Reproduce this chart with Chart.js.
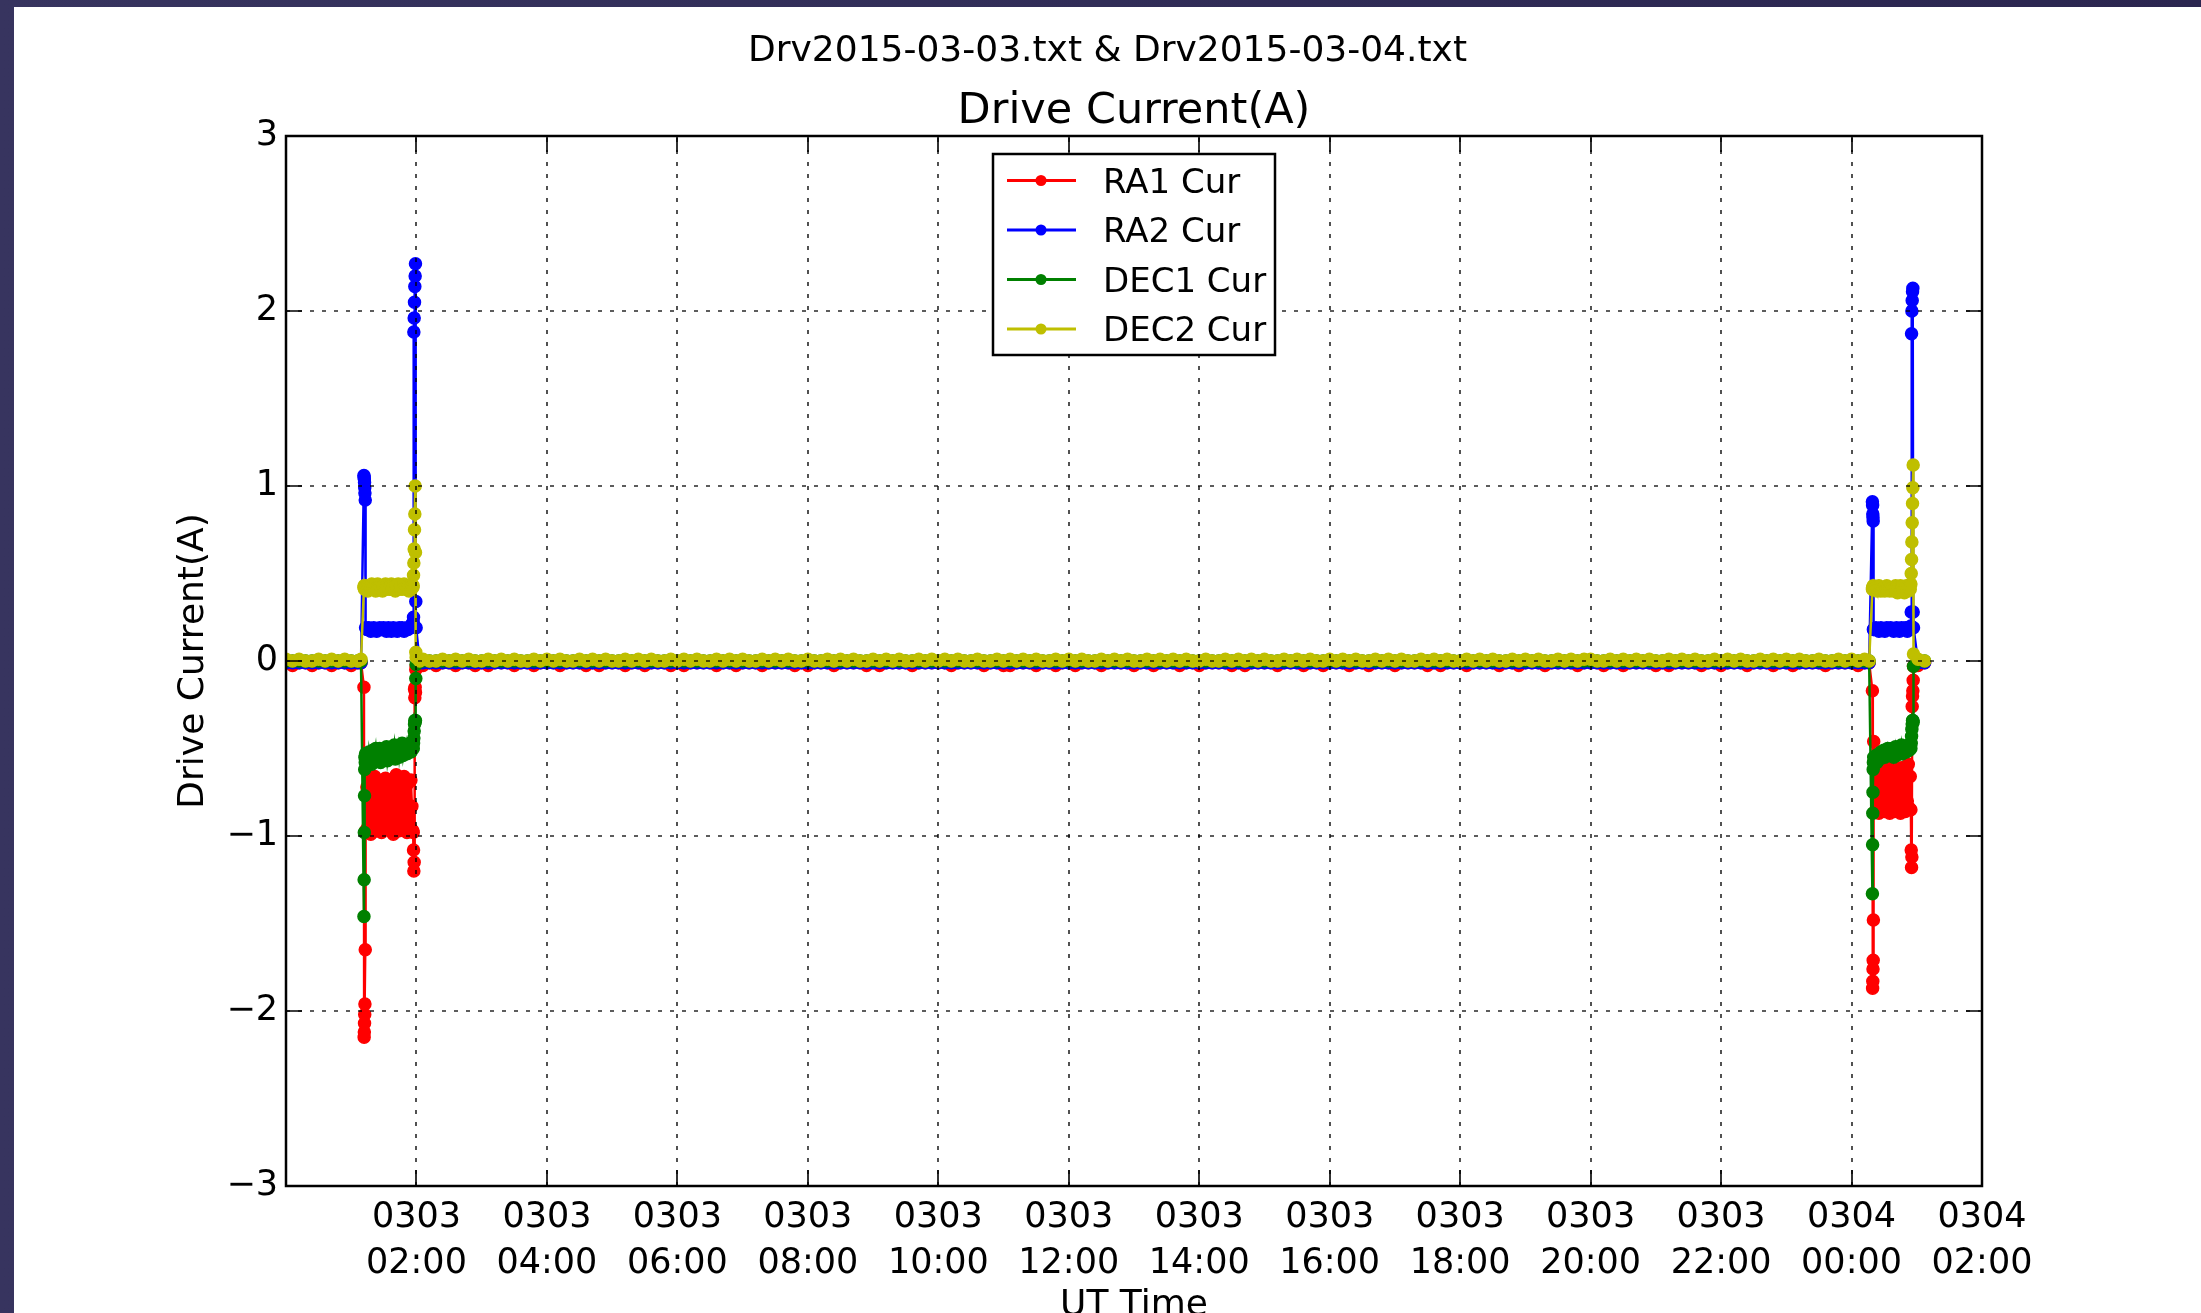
<!DOCTYPE html>
<html>
<head>
<meta charset="utf-8">
<title>Drive Current(A)</title>
<script src="https://cdn.jsdelivr.net/npm/chart.js@4.4.1/dist/chart.umd.min.js"></script>
<style>
  html, body { margin: 0; padding: 0; overflow: hidden; }
  body { width: 2201px; height: 1313px; background: linear-gradient(90deg, #37345f, #2b2650); }
  #panel { position: absolute; left: 14px; top: 7px; width: 2187px; height: 1330px; background: #fff; }
</style>
</head>
<body>
<div id="panel"><canvas id="driveChart"></canvas></div>
<script>
// Titles and labels
const fileTitle = 'Drv2015-03-03.txt & Drv2015-03-04.txt';
const chartTitle = 'Drive Current(A)';
const seriesLabels = ['RA1 Cur', 'RA2 Cur', 'DEC1 Cur', 'DEC2 Cur'];
const dayLabels = ['0303', '0304'];

// Idle periods: hours since 0303 00:00 UT
const quietTimes = [
    0, 0.1, 0.2, 0.3, 0.4, 0.5, 0.6, 0.7, 0.8, 0.9, 1, 1.1, 1.15,
    2.05, 2.1, 2.2, 2.3, 2.4, 2.5, 2.6, 2.7, 2.8, 2.9, 3, 3.1, 3.2, 3.3, 3.4, 3.5, 3.6, 3.7, 3.8, 3.9,
    4, 4.1, 4.2, 4.3, 4.4, 4.5, 4.6, 4.7, 4.8, 4.9, 5, 5.1, 5.2, 5.3, 5.4, 5.5, 5.6, 5.7, 5.8, 5.9,
    6, 6.1, 6.2, 6.3, 6.4, 6.5, 6.6, 6.7, 6.8, 6.9, 7, 7.1, 7.2, 7.3, 7.4, 7.5, 7.6, 7.7, 7.8, 7.9,
    8, 8.1, 8.2, 8.3, 8.4, 8.5, 8.6, 8.7, 8.8, 8.9, 9, 9.1, 9.2, 9.3, 9.4, 9.5, 9.6, 9.7, 9.8, 9.9,
    10, 10.1, 10.2, 10.3, 10.4, 10.5, 10.6, 10.7, 10.8, 10.9, 11, 11.1, 11.2, 11.3, 11.4, 11.5, 11.6, 11.7, 11.8, 11.9,
    12, 12.1, 12.2, 12.3, 12.4, 12.5, 12.6, 12.7, 12.8, 12.9, 13, 13.1, 13.2, 13.3, 13.4, 13.5, 13.6, 13.7, 13.8, 13.9,
    14, 14.1, 14.2, 14.3, 14.4, 14.5, 14.6, 14.7, 14.8, 14.9, 15, 15.1, 15.2, 15.3, 15.4, 15.5, 15.6, 15.7, 15.8, 15.9,
    16, 16.1, 16.2, 16.3, 16.4, 16.5, 16.6, 16.7, 16.8, 16.9, 17, 17.1, 17.2, 17.3, 17.4, 17.5, 17.6, 17.7, 17.8, 17.9,
    18, 18.1, 18.2, 18.3, 18.4, 18.5, 18.6, 18.7, 18.8, 18.9, 19, 19.1, 19.2, 19.3, 19.4, 19.5, 19.6, 19.7, 19.8, 19.9,
    20, 20.1, 20.2, 20.3, 20.4, 20.5, 20.6, 20.7, 20.8, 20.9, 21, 21.1, 21.2, 21.3, 21.4, 21.5, 21.6, 21.7, 21.8, 21.9,
    22, 22.1, 22.2, 22.3, 22.4, 22.5, 22.6, 22.7, 22.8, 22.9, 23, 23.1, 23.2, 23.3, 23.4, 23.5, 23.6, 23.7, 23.8, 23.9,
    24, 24.1, 24.2, 24.27, 25.02, 25.12
];
const quietRA1 = [
    -0.01, -0.025, -0.01, -0.01, -0.025, -0.01, -0.01, -0.025, -0.01, -0.01, -0.025, -0.01, -0.01,
    -0.01, -0.025, -0.01, -0.025, -0.01,  -0.01, -0.025, -0.01, -0.01, -0.025,  -0.01, -0.025, -0.01, -0.01, -0.01,  -0.025, -0.01, -0.01, -0.025, -0.01,
    -0.01, -0.01, -0.025, -0.01, -0.01,  -0.01, -0.025, -0.01, -0.025, -0.01,  -0.01, -0.01, -0.025, -0.01, -0.01,  -0.025, -0.01, -0.01, -0.01, -0.025,
    -0.01, -0.025, -0.01, -0.01, -0.01,  -0.01, -0.025, -0.01, -0.01, -0.025,  -0.01, -0.01, -0.01, -0.025, -0.01,  -0.01, -0.01, -0.01, -0.025, -0.01,
    -0.025, -0.01, -0.01, -0.01, -0.025,  -0.01, -0.01, -0.01, -0.01, -0.025,  -0.01, -0.025, -0.01, -0.01, -0.01,  -0.01, -0.025, -0.01, -0.01, -0.01,
    -0.01, -0.01, -0.025, -0.01, -0.01,  -0.01, -0.01, -0.025, -0.01, -0.01,  -0.025, -0.025, -0.01, -0.01, -0.01,  -0.025, -0.01, -0.01, -0.025, -0.01,
    -0.01, -0.025, -0.01, -0.01, -0.01,  -0.025, -0.01, -0.01, -0.01, -0.01,  -0.025, -0.01, -0.01, -0.025, -0.01,  -0.01, -0.01, -0.025, -0.01, -0.01,
    -0.025, -0.01, -0.01, -0.01, -0.01,  -0.025, -0.01, -0.025, -0.01, -0.01,  -0.01, -0.01, -0.025, -0.01, -0.01,  -0.01, -0.025, -0.01, -0.01, -0.025,
    -0.01, -0.01, -0.01, -0.025, -0.01,  -0.01, -0.025, -0.01, -0.01, -0.01,  -0.025, -0.01, -0.01, -0.01, -0.01,  -0.025, -0.01, -0.025, -0.01, -0.01,
    -0.01, -0.025, -0.01, -0.01, -0.01,  -0.01, -0.025, -0.01, -0.01, -0.025,  -0.01, -0.01, -0.01, -0.025, -0.01,  -0.01, -0.01, -0.01, -0.025, -0.01,
    -0.01, -0.01, -0.025, -0.01, -0.01,  -0.025, -0.01, -0.01, -0.01, -0.01,  -0.025, -0.01, -0.025, -0.01, -0.01,  -0.01, -0.01, -0.025, -0.01, -0.01,
    -0.025, -0.01, -0.01, -0.01, -0.025,  -0.01, -0.01, -0.01, -0.025, -0.01,  -0.01, -0.025, -0.01, -0.01, -0.01,  -0.01, -0.025, -0.01, -0.01, -0.01,
    -0.01, -0.025, -0.01, -0.01, -0.025, -0.01
];
const quietRA2 = [
    -0.01, -0.01, -0.01, -0.01, -0.01, -0.01, -0.01, -0.01, -0.01, -0.01, -0.01, -0.01, -0.01,
    -0.01, -0.01, -0.01, -0.01, -0.01,  -0.01, -0.01, -0.01, -0.01, -0.01,  -0.01, -0.01, -0.01, -0.01, -0.01,  -0.01, -0.01, -0.01, -0.01, -0.01,
    -0.01, -0.01, -0.01, -0.01, -0.01,  -0.01, -0.01, -0.01, -0.01, -0.01,  -0.01, -0.01, -0.01, -0.01, -0.01,  -0.01, -0.01, -0.01, -0.01, -0.01,
    -0.01, -0.01, -0.01, -0.01, -0.01,  -0.01, -0.01, -0.01, -0.01, -0.01,  -0.01, -0.01, -0.01, -0.01, -0.01,  -0.01, -0.01, -0.01, -0.01, -0.01,
    -0.01, -0.01, -0.01, -0.01, -0.01,  -0.01, -0.01, -0.01, -0.01, -0.01,  -0.01, -0.01, -0.01, -0.01, -0.01,  -0.01, -0.01, -0.01, -0.01, -0.01,
    -0.01, -0.01, -0.01, -0.01, -0.01,  -0.01, -0.01, -0.01, -0.01, -0.01,  -0.01, -0.01, -0.01, -0.01, -0.01,  -0.01, -0.01, -0.01, -0.01, -0.01,
    -0.01, -0.01, -0.01, -0.01, -0.01,  -0.01, -0.01, -0.01, -0.01, -0.01,  -0.01, -0.01, -0.01, -0.01, -0.01,  -0.01, -0.01, -0.01, -0.01, -0.01,
    -0.01, -0.01, -0.01, -0.01, -0.01,  -0.01, -0.01, -0.01, -0.01, -0.01,  -0.01, -0.01, -0.01, -0.01, -0.01,  -0.01, -0.01, -0.01, -0.01, -0.01,
    -0.01, -0.01, -0.01, -0.01, -0.01,  -0.01, -0.01, -0.01, -0.01, -0.01,  -0.01, -0.01, -0.01, -0.01, -0.01,  -0.01, -0.01, -0.01, -0.01, -0.01,
    -0.01, -0.01, -0.01, -0.01, -0.01,  -0.01, -0.01, -0.01, -0.01, -0.01,  -0.01, -0.01, -0.01, -0.01, -0.01,  -0.01, -0.01, -0.01, -0.01, -0.01,
    -0.01, -0.01, -0.01, -0.01, -0.01,  -0.01, -0.01, -0.01, -0.01, -0.01,  -0.01, -0.01, -0.01, -0.01, -0.01,  -0.01, -0.01, -0.01, -0.01, -0.01,
    -0.01, -0.01, -0.01, -0.01, -0.01,  -0.01, -0.01, -0.01, -0.01, -0.01,  -0.01, -0.01, -0.01, -0.01, -0.01,  -0.01, -0.01, -0.01, -0.01, -0.01,
    -0.01, -0.01, -0.01, -0.01, -0.01, -0.01
];
const quietDEC1 = [
    0, 0, 0, 0, 0, 0, 0, 0, 0, 0, 0, 0, 0,
    0, 0, 0, 0, 0,  0, 0, 0, 0, 0,  0, 0, 0, 0, 0,  0, 0, 0, 0, 0,
    0, 0, 0, 0, 0,  0, 0, 0, 0, 0,  0, 0, 0, 0, 0,  0, 0, 0, 0, 0,
    0, 0, 0, 0, 0,  0, 0, 0, 0, 0,  0, 0, 0, 0, 0,  0, 0, 0, 0, 0,
    0, 0, 0, 0, 0,  0, 0, 0, 0, 0,  0, 0, 0, 0, 0,  0, 0, 0, 0, 0,
    0, 0, 0, 0, 0,  0, 0, 0, 0, 0,  0, 0, 0, 0, 0,  0, 0, 0, 0, 0,
    0, 0, 0, 0, 0,  0, 0, 0, 0, 0,  0, 0, 0, 0, 0,  0, 0, 0, 0, 0,
    0, 0, 0, 0, 0,  0, 0, 0, 0, 0,  0, 0, 0, 0, 0,  0, 0, 0, 0, 0,
    0, 0, 0, 0, 0,  0, 0, 0, 0, 0,  0, 0, 0, 0, 0,  0, 0, 0, 0, 0,
    0, 0, 0, 0, 0,  0, 0, 0, 0, 0,  0, 0, 0, 0, 0,  0, 0, 0, 0, 0,
    0, 0, 0, 0, 0,  0, 0, 0, 0, 0,  0, 0, 0, 0, 0,  0, 0, 0, 0, 0,
    0, 0, 0, 0, 0,  0, 0, 0, 0, 0,  0, 0, 0, 0, 0,  0, 0, 0, 0, 0,
    0, 0, 0, 0, 0, 0
];
const quietDEC2 = [
    0.01, 0, 0.01, 0, 0, 0.01, 0, 0.01, 0, 0.01, 0, 0, 0.01,
    0, 0.01, 0, 0, 0.01,  0, 0.01, 0, 0.01, 0,  0, 0.01, 0, 0.01, 0,  0.01, 0, 0, 0.01, 0,
    0.01, 0, 0.01, 0, 0,  0.01, 0, 0.01, 0, 0.01,  0, 0, 0.01, 0, 0.01,  0, 0.01, 0, 0, 0.01,
    0, 0.01, 0, 0.01, 0,  0, 0.01, 0, 0.01, 0,  0.01, 0, 0, 0.01, 0,  0.01, 0, 0.01, 0, 0,
    0.01, 0, 0, 0.01, 0,  0.01, 0, 0.01, 0, 0,  0.01, 0, 0.01, 0, 0.01,  0, 0, 0.01, 0, 0.01,
    0, 0.01, 0, 0.01, 0,  0, 0.01, 0, 0, 0.01,  0, 0.01, 0, 0.01, 0,  0.01, 0, 0, 0.01, 0,
    0.01, 0, 0.01, 0, 0,  0.01, 0, 0.01, 0, 0.01,  0, 0, 0.01, 0, 0.01,  0, 0.01, 0, 0.01, 0,
    0, 0.01, 0, 0, 0.01,  0, 0.01, 0, 0.01, 0,  0.01, 0, 0, 0.01, 0,  0.01, 0, 0.01, 0, 0,
    0.01, 0, 0.01, 0, 0.01,  0, 0, 0.01, 0, 0.01,  0, 0.01, 0, 0, 0.01,  0, 0.01, 0, 0.01, 0,
    0, 0.01, 0, 0.01, 0,  0.01, 0, 0, 0.01, 0,  0.01, 0, 0.01, 0, 0,  0.01, 0, 0.01, 0, 0.01,
    0.01, 0, 0, 0.01, 0,  0.01, 0, 0.01, 0, 0.01,  0, 0, 0.01, 0, 0.01,  0, 0.01, 0, 0, 0.01,
    0, 0.01, 0, 0.01, 0,  0, 0.01, 0, 0.01, 0,  0.01, 0, 0.01, 0, 0,  0.01, 0, 0, 0.01, 0,
    0.01, 0, 0.01, 0, 0.01, 0
];

// Slews: 0303 ~01:12-02:00 and 0304 ~00:19-00:57
const slewTimes = [
    1.195, 1.198, 1.201, 1.204, 1.207, 1.21, 1.215, 1.22,
    1.24, 1.255, 1.27, 1.285, 1.3, 1.315, 1.33, 1.345, 1.36, 1.375, 1.39, 1.405,
    1.42, 1.435, 1.45, 1.465, 1.48, 1.495, 1.51, 1.525, 1.54, 1.555, 1.57, 1.585,
    1.6, 1.615, 1.63, 1.645, 1.66, 1.675, 1.69, 1.705, 1.72, 1.735, 1.75, 1.765,
    1.78, 1.795, 1.81, 1.825, 1.84, 1.855, 1.87, 1.885, 1.9, 1.915, 1.93, 1.945,
    1.95, 1.955, 1.96, 1.965, 1.97, 1.975, 1.98, 1.985, 1.99, 1.995,
    24.32, 24.323, 24.326, 24.329, 24.332, 24.335, 24.34,
    24.36, 24.375, 24.39, 24.405, 24.42, 24.435, 24.45, 24.465, 24.48, 24.495,
    24.51, 24.525, 24.54, 24.555, 24.57, 24.585, 24.6, 24.615, 24.63,
    24.645, 24.66, 24.675, 24.69, 24.705, 24.72, 24.735, 24.75, 24.765,
    24.78, 24.795, 24.81, 24.825, 24.84, 24.855, 24.87, 24.885, 24.9,
    24.91, 24.915, 24.92, 24.925, 24.93, 24.935, 24.94, 24.945, 24.95
];
const slewRA1 = [
    -0.15, -2.15, -2.12, -2.07, -2.02, -1.96, -1.65, -0.97,
    -0.72, -0.95, -0.68, -0.90, -0.99, -0.70, -0.86, -0.94, -0.66, -0.80, -0.97, -0.74,
    -0.91, -0.69, -0.85, -0.98, -0.71, -0.82, -0.95, -0.67, -0.89, -0.77, -0.96, -0.70,
    -0.93, -0.68, -0.84, -0.99, -0.73, -0.88, -0.65, -0.92, -0.79, -0.97, -0.69, -0.87,
    -0.75, -0.95, -0.66, -0.90, -0.81, -0.98, -0.70, -0.86, -0.94, -0.68, -0.83, -0.97,
    -0.98, -1.08, -1.20, -1.15, -0.16, -0.21, -0.15, -0.18, -0.05, -0.03,
    -0.17, -1.87, -1.83, -1.76, -1.71, -1.48, -0.46,
    -0.62, -0.85, -0.60, -0.80, -0.87, -0.63, -0.76, -0.84, -0.59, -0.72,
    -0.86, -0.65, -0.81, -0.61, -0.78, -0.87, -0.64, -0.74, -0.82,
    -0.60, -0.86, -0.68, -0.79, -0.62, -0.85, -0.71, -0.87, -0.61,
    -0.77, -0.83, -0.63, -0.86, -0.70, -0.80, -0.59, -0.84, -0.66,
    -0.85, -1.08, -1.18, -1.12, -0.26, -0.20, -0.17, -0.11, -0.03
];
const slewRA2 = [
    1.06, 1.05, 1.04, 1.02, 0.99, 0.96, 0.92, 0.19,
    0.18, 0.18, 0.19, 0.18, 0.17, 0.18, 0.18, 0.19, 0.18, 0.18, 0.17, 0.18,
    0.18, 0.19, 0.18, 0.18, 0.18, 0.19, 0.18, 0.18, 0.17, 0.18, 0.19, 0.18,
    0.18, 0.17, 0.18, 0.19, 0.18, 0.18, 0.18, 0.17, 0.18, 0.19, 0.18, 0.18,
    0.19, 0.18, 0.17, 0.18, 0.18, 0.19, 0.18, 0.19, 0.19, 0.20, 0.21, 0.22,
    0.22, 0.25, 1.88, 1.96, 2.05, 2.14, 2.20, 2.27, 0.34, 0.19,
    0.91, 0.89, 0.84, 0.82, 0.80, 0.18, 0.18,
    0.18, 0.19, 0.18, 0.18, 0.17, 0.18, 0.19, 0.18, 0.18, 0.18,
    0.17, 0.18, 0.19, 0.18, 0.18, 0.18, 0.19, 0.18, 0.18,
    0.17, 0.18, 0.18, 0.19, 0.18, 0.18, 0.17, 0.18, 0.19,
    0.18, 0.18, 0.18, 0.19, 0.18, 0.17, 0.18, 0.19, 0.18,
    0.20, 0.28, 1.87, 2.00, 2.06, 2.11, 2.13, 0.28, 0.19
];
const slewDEC1 = [
    -1.46, -1.25, -0.98, -0.77, -0.62, -0.55, -0.58, -0.53,
    -0.55, -0.58, -0.52, -0.57, -0.53, -0.59, -0.51, -0.56, -0.54, -0.50, -0.57, -0.52,
    -0.55, -0.50, -0.58, -0.53, -0.51, -0.56, -0.52, -0.54, -0.49, -0.57, -0.53, -0.51,
    -0.55, -0.50, -0.54, -0.52, -0.48, -0.56, -0.51, -0.53, -0.49, -0.55, -0.50, -0.52,
    -0.47, -0.54, -0.50, -0.52, -0.48, -0.53, -0.49, -0.51, -0.47, -0.52, -0.49, -0.50,
    -0.50, -0.47, -0.44, -0.40, -0.36, -0.34, -0.35, -0.34, -0.10, -0.02,
    -1.33, -1.05, -0.87, -0.75, -0.62, -0.58, -0.55,
    -0.57, -0.54, -0.58, -0.55, -0.53, -0.56, -0.52, -0.55, -0.54, -0.51,
    -0.55, -0.52, -0.54, -0.50, -0.53, -0.51, -0.52, -0.50, -0.51,
    -0.55, -0.52, -0.49, -0.54, -0.51, -0.53, -0.50, -0.52, -0.48,
    -0.53, -0.50, -0.51, -0.49, -0.52, -0.50, -0.48, -0.51, -0.49,
    -0.50, -0.47, -0.43, -0.39, -0.36, -0.34, -0.34, -0.35, -0.03
];
const slewDEC2 = [
    0.42, 0.43, 0.42, 0.41, 0.42, 0.43, 0.42, 0.42,
    0.42, 0.40, 0.43, 0.42, 0.41, 0.44, 0.41, 0.42, 0.43, 0.40, 0.42, 0.44,
    0.42, 0.41, 0.43, 0.42, 0.40, 0.43, 0.42, 0.44, 0.41, 0.42, 0.43, 0.41,
    0.42, 0.44, 0.41, 0.43, 0.42, 0.40, 0.43, 0.42, 0.44, 0.41, 0.42, 0.43,
    0.41, 0.42, 0.44, 0.42, 0.41, 0.43, 0.42, 0.40, 0.43, 0.42, 0.44, 0.42,
    0.43, 0.49, 0.56, 0.64, 0.75, 0.84, 1.00, 0.62, 0.05, 0.02,
    0.41, 0.42, 0.41, 0.42, 0.43, 0.41, 0.42,
    0.41, 0.42, 0.40, 0.41, 0.43, 0.41, 0.40, 0.42, 0.41, 0.42,
    0.40, 0.41, 0.43, 0.42, 0.41, 0.40, 0.42, 0.41, 0.42,
    0.40, 0.42, 0.43, 0.41, 0.39, 0.42, 0.41, 0.43, 0.40,
    0.42, 0.41, 0.39, 0.42, 0.43, 0.41, 0.40, 0.42, 0.41,
    0.44, 0.50, 0.58, 0.68, 0.79, 0.90, 0.99, 1.12, 0.04
];

const yTicks = [-3, -2, -1, 0, 1, 2, 3];

Chart.defaults.font.family = '"DejaVu Sans", sans-serif';
Chart.defaults.color = '#000';

// merge idle and slew samples into one time-ordered series
function series(quiet, slew) {
    const pts = quietTimes.map((t, i) => ({ x: t, y: quiet[i] }))
        .concat(slewTimes.map((t, i) => ({ x: t, y: slew[i] })));
    return pts.sort((a, b) => a.x - b.x);
}

function makeSet(label, color, order, quiet, slew) {
    return {
        label: label,
        order: order,
        data: series(quiet, slew),
        borderColor: color,
        backgroundColor: color,
        borderWidth: 2.5,
        pointRadius: 6,
        pointHoverRadius: 6,
        pointBorderWidth: 1.5,
        pointBackgroundColor: color,
        pointBorderColor: color,
        tension: 0,
        fill: false
    };
}

// dotted grid, inward ticks and frame drawn over the data (matplotlib classic)
const axesFrame = {
    id: 'axesFrame',
    afterDatasetsDraw(chart) {
        const { ctx, chartArea: a, scales: { x, y } } = chart;
        const tick = 16;
        ctx.save();
        ctx.strokeStyle = 'rgba(0,0,0,0.85)';
        ctx.lineWidth = 1.6;
        ctx.setLineDash([4, 8]);
        x.ticks.forEach(t => {
            const px = Math.round(x.getPixelForValue(t.value));
            if (px <= a.left + 1 || px >= a.right - 1) return;
            ctx.beginPath(); ctx.moveTo(px, a.bottom); ctx.lineTo(px, a.top); ctx.stroke();
        });
        y.ticks.forEach(t => {
            const py = Math.round(y.getPixelForValue(t.value));
            if (py <= a.top + 1 || py >= a.bottom - 1) return;
            ctx.beginPath(); ctx.moveTo(a.left, py); ctx.lineTo(a.right, py); ctx.stroke();
        });
        ctx.setLineDash([]);
        ctx.strokeStyle = '#000';
        ctx.lineWidth = 1.6;
        ctx.beginPath();
        x.ticks.forEach(t => {
            const px = Math.round(x.getPixelForValue(t.value));
            ctx.moveTo(px, a.bottom); ctx.lineTo(px, a.bottom - tick);
            ctx.moveTo(px, a.top); ctx.lineTo(px, a.top + tick);
        });
        y.ticks.forEach(t => {
            const py = Math.round(y.getPixelForValue(t.value));
            ctx.moveTo(a.left, py); ctx.lineTo(a.left + tick, py);
            ctx.moveTo(a.right, py); ctx.lineTo(a.right - tick, py);
        });
        ctx.stroke();
        ctx.lineWidth = 2.5;
        ctx.strokeRect(a.left, a.top, a.right - a.left, a.bottom - a.top);
        ctx.restore();
    }
};

// framed legend, upper centre of the axes
const legendBox = {
    id: 'legendBox',
    afterDraw(chart) {
        const { ctx, chartArea: a } = chart;
        const w = 282, h = 201, rowGap = 49.5;
        const left = (a.left + a.right) / 2 - w / 2;
        const top = a.top + 18;
        ctx.save();
        ctx.fillStyle = '#fff';
        ctx.fillRect(left, top, w, h);
        ctx.strokeStyle = '#000';
        ctx.lineWidth = 2.5;
        ctx.strokeRect(left, top, w, h);
        ctx.font = '34px "DejaVu Sans"';
        ctx.textBaseline = 'alphabetic';
        chart.data.datasets.forEach((ds, i) => {
            const cy = top + 26.5 + i * rowGap;
            ctx.strokeStyle = ds.borderColor;
            ctx.lineWidth = 3;
            ctx.beginPath(); ctx.moveTo(left + 14, cy); ctx.lineTo(left + 83, cy); ctx.stroke();
            ctx.fillStyle = ds.borderColor;
            ctx.beginPath(); ctx.arc(left + 48, cy, 5.5, 0, Math.PI * 2); ctx.fill();
            ctx.fillStyle = '#000';
            ctx.fillText(ds.label, left + 110, cy + 12.4);
        });
        ctx.restore();
    }
};

const ctx = document.getElementById('driveChart').getContext('2d');
new Chart(ctx, {
    type: 'line',
    data: {
        datasets: [
            makeSet(seriesLabels[0], '#ff0000', 4, quietRA1, slewRA1),
            makeSet(seriesLabels[1], '#0000ff', 3, quietRA2, slewRA2),
            makeSet(seriesLabels[2], '#008000', 2, quietDEC1, slewDEC1),
            makeSet(seriesLabels[3], '#bfbf00', 1, quietDEC2, slewDEC2)
        ]
    },
    options: {
        responsive: true,
        maintainAspectRatio: false,
        animation: false,
        events: [],
        layout: { padding: 0 },
        plugins: {
            legend: { display: false },
            tooltip: { enabled: false },
            title: {
                display: true, text: fileTitle, color: '#000',
                font: { size: 36, weight: 'normal' }, padding: { top: 23, bottom: 0 }
            },
            subtitle: {
                display: true, text: chartTitle, color: '#000', fullSize: false,
                font: { size: 43, weight: 'normal', lineHeight: 1.1 }, padding: { top: 15, bottom: 0.5 }
            }
        },
        scales: {
            x: {
                type: 'linear',
                min: 0,
                max: 26,
                afterFit: scale => { scale.height = 151; },
                border: { display: false },
                grid: { display: false, drawTicks: false },
                ticks: {
                    stepSize: 2,
                    autoSkip: false,
                    maxRotation: 0,
                    padding: 8,
                    color: '#000',
                    font: { size: 35, lineHeight: 1.34 },
                    callback: v => {
                        if (v === 0) return '';
                        const day = v >= 24 ? dayLabels[1] : dayLabels[0];
                        return [day, String(v % 24).padStart(2, '0') + ':00'];
                    }
                },
                title: {
                    display: true, text: 'UT Time', color: '#000',
                    font: { size: 36 }, padding: { top: 0, bottom: 10 }
                }
            },
            y: {
                min: yTicks[0],
                max: yTicks[yTicks.length - 1],
                afterFit: scale => { scale.width = 272; },
                afterBuildTicks: scale => { scale.ticks = yTicks.map(v => ({ value: v })); },
                border: { display: false },
                grid: { display: false, drawTicks: false },
                ticks: {
                    padding: 8,
                    color: '#000',
                    font: { size: 35 },
                    callback: v => v < 0 ? '\u2212' + (-v) : String(v)
                },
                title: {
                    display: true, text: chartTitle, color: '#000',
                    font: { size: 36 }, padding: { top: 158, bottom: 0 }
                }
            },
            // empty right-hand margin of the figure
            margin: {
                position: 'right',
                afterFit: scale => { scale.width = 219; },
                border: { display: false },
                grid: { display: false, drawTicks: false },
                ticks: { display: false },
                title: { display: false }
            }
        }
    },
    plugins: [axesFrame, legendBox]
});
</script>
</body>
</html>
